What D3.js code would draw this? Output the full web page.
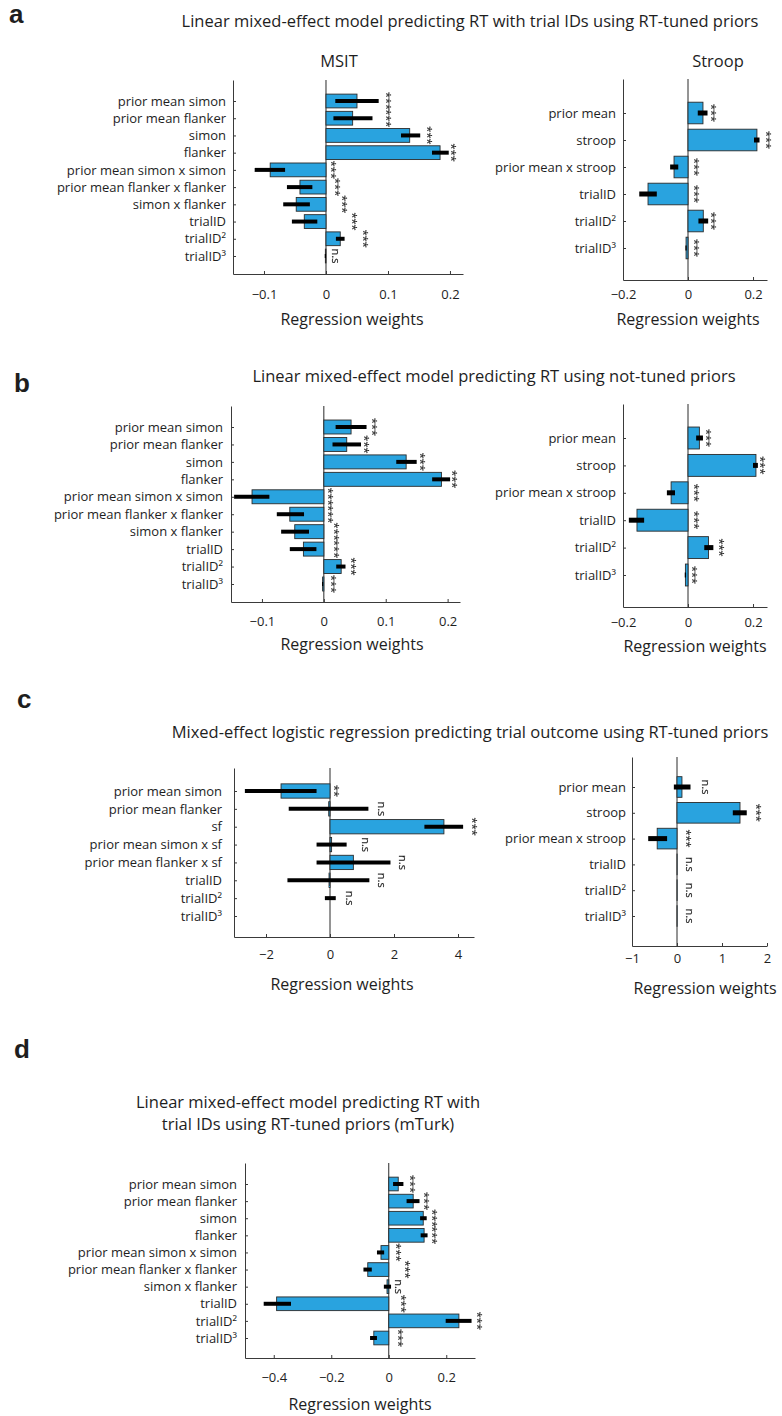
<!DOCTYPE html>
<html>
<head>
<meta charset="utf-8">
<script src="https://cdn.jsdelivr.net/npm/d3@7"></script>
<style>
  body { margin: 0; background: #fff; }
  svg text { font-family: "Open Sans", Lato, sans-serif; fill: #1e1e1e; }
  .axis path, .axis line { stroke: #3a3a3a; }
  .sigs { filter: grayscale(100%); opacity: 0.98; }
</style>
</head>
<body>
<svg id="fig" width="782" height="1416"></svg>
<script>
// ---- terms (y categories) ----
const msitTerms = ["prior mean simon", "prior mean flanker", "simon", "flanker",
  "prior mean simon x simon", "prior mean flanker x flanker", "simon x flanker",
  "trialID", "trialID\u00b2", "trialID\u00b3"];
const stroopTerms = ["prior mean", "stroop", "prior mean x stroop", "trialID", "trialID\u00b2", "trialID\u00b3"];
const logitMsitTerms = ["prior mean simon", "prior mean flanker", "sf", "prior mean simon x sf",
  "prior mean flanker x sf", "trialID", "trialID\u00b2", "trialID\u00b3"];

// ---- a: RT with trial IDs, RT-tuned priors ----
const aMsitW  = [0.05, 0.043, 0.135, 0.184, -0.09, -0.042, -0.048, -0.035, 0.023, -0.001];
const aMsitLo = [0.015, 0.012, 0.121, 0.171, -0.115, -0.063, -0.069, -0.055, 0.016, -0.002];
const aMsitHi = [0.085, 0.075, 0.152, 0.198, -0.066, -0.022, -0.026, -0.014, 0.03, 0.0];
const aMsitSig  = ["***", "***", "***", "***", "***", "***", "***", "***", "***", "n.s"];
const aMsitSigX = [0.103, 0.103, 0.168, 0.208, 0.014, 0.021, 0.032, 0.047, 0.066, 0.015];

const aStroopW  = [0.046, 0.212, -0.043, -0.123, 0.047, -0.006];
const aStroopLo = [0.03, 0.203, -0.055, -0.15, 0.032, -0.008];
const aStroopHi = [0.06, 0.22, -0.03, -0.096, 0.062, -0.004];
const aStroopSig  = ["***", "***", "***", "***", "***", "***"];
const aStroopSigX = [0.083, 0.25, 0.03, 0.03, 0.083, 0.03];

// ---- b: RT, not-tuned priors ----
const bMsitW  = [0.044, 0.037, 0.133, 0.19, -0.116, -0.055, -0.047, -0.033, 0.028, -0.002];
const bMsitLo = [0.019, 0.014, 0.117, 0.175, -0.145, -0.076, -0.069, -0.055, 0.02, -0.003];
const bMsitHi = [0.069, 0.06, 0.15, 0.204, -0.088, -0.032, -0.024, -0.012, 0.035, -0.001];
const bMsitSig  = ["***", "***", "***", "***", "***", "***", "***", "***", "***", "***"];
const bMsitSigX = [0.084, 0.07, 0.162, 0.213, 0.012, 0.012, 0.022, 0.022, 0.05, 0.018];

const bStroopW  = [0.035, 0.209, -0.052, -0.157, 0.063, -0.008];
const bStroopLo = [0.025, 0.2, -0.065, -0.182, 0.05, -0.01];
const bStroopHi = [0.046, 0.215, -0.04, -0.135, 0.078, -0.006];
const bStroopSig  = ["***", "***", "***", "***", "***", "***"];
const bStroopSigX = [0.066, 0.233, 0.029, 0.029, 0.105, 0.024];

// ---- c: logistic regression, trial outcome ----
const cMsitW  = [-1.53, -0.04, 3.56, 0.05, 0.73, -0.03, 0.0, 0.0];
const cMsitLo = [-2.66, -1.29, 2.95, -0.42, -0.42, -1.33, -0.16, 0.0];
const cMsitHi = [-0.42, 1.2, 4.16, 0.52, 1.89, 1.23, 0.18, 0.0];
const cMsitSig  = ["**", "n.s", "***", "n.s", "n.s", "n.s", "n.s", ""];
const cMsitSigX = [0.24, 1.6, 4.56, 1.1, 2.26, 1.6, 0.6, 0];

const cStroopW  = [0.11, 1.4, -0.44, 0.003, 0.003, 0.003];
const cStroopLo = [-0.07, 1.24, -0.64, 0, 0, 0];
const cStroopHi = [0.3, 1.55, -0.22, 0, 0, 0];
const cStroopSig  = ["n.s", "***", "***", "n.s", "n.s", "n.s"];
const cStroopSigX = [0.64, 1.84, 0.29, 0.27, 0.27, 0.27];

// ---- d: mTurk ----
const dW  = [0.033, 0.085, 0.12, 0.123, -0.027, -0.073, -0.006, -0.39, 0.244, -0.052];
const dLo = [0.015, 0.062, 0.109, 0.111, -0.041, -0.088, -0.017, -0.435, 0.198, -0.065];
const dHi = [0.051, 0.107, 0.132, 0.135, -0.016, -0.059, 0.008, -0.34, 0.288, -0.041];
const dSig  = ["***", "***", "***", "***", "***", "***", "n.s", "***", "***", "***"];
const dSigX = [0.085, 0.135, 0.163, 0.163, 0.038, 0.07, 0.034, 0.056, 0.32, 0.045];

const msitTicks = [-0.1, 0, 0.1, 0.2];
const stroopTicks = [-0.2, 0, 0.2];
const cMsitTicks = [-2, 0, 2, 4];
const cStroopTicks = [-1, 0, 1, 2];
const dTicks = [-0.4, -0.2, 0, 0.2];

const svg = d3.select("#fig");
const BAR = "#29a3df";

function drawPanel(p) {
  const n = p.terms.length;
  const step = (p.row1 - p.row0) / (n - 1);
  const x = d3.scaleLinear().domain(p.domain).range([p.x0, p.x1]);
  const y = d3.scaleLinear()
    .domain([-(p.row0 - p.top) / step, n - 1 + (p.bottom - p.row1) / step])
    .range([p.top, p.bottom]);
  const bh = step * 0.8;
  const g = svg.append("g");

  // zero line
  g.append("line")
    .attr("x1", x(0)).attr("x2", x(0))
    .attr("y1", p.top).attr("y2", p.bottom)
    .attr("stroke", "#2a2a2a").attr("stroke-width", 1);

  // bars
  g.selectAll("rect.bar").data(p.w).join("rect")
    .attr("class", "bar")
    .attr("x", d => Math.min(x(0), x(d)))
    .attr("width", d => Math.abs(x(d) - x(0)))
    .attr("y", (d, i) => y(i) - bh / 2)
    .attr("height", bh)
    .attr("fill", BAR).attr("stroke", "#2b2b2b").attr("stroke-width", 0.9);

  // error bars
  g.selectAll("line.err").data(p.lo).join("line")
    .attr("class", "err")
    .attr("x1", d => x(d)).attr("x2", (d, i) => x(p.hi[i]))
    .attr("y1", (d, i) => y(i)).attr("y2", (d, i) => y(i))
    .attr("stroke", "#000").attr("stroke-width", p.errW);

  // axes
  const ax = g.append("g").attr("class", "axis")
    .attr("transform", `translate(0,${p.bottom})`)
    .call(d3.axisBottom(x).tickValues(p.ticks).tickSize(-3).tickSizeOuter(0)
      .tickFormat(d => d3.format("~g")(d)));
  ax.selectAll("text").attr("y", p.tickDy).attr("dy", null)
    .style("font-size", "13px").attr("fill", "#1e1e1e");

  const ay = g.append("g").attr("class", "axis")
    .attr("transform", `translate(${p.x0},0)`)
    .call(d3.axisLeft(y).tickValues(d3.range(n)).tickSize(-3).tickSizeOuter(0)
      .tickFormat(i => p.terms[i]));
  ay.selectAll("text").attr("x", -p.labGap).style("font-size", "13px").attr("fill", "#1e1e1e");

  // significance labels (rotated), grouped so they render in grey
  g.append("g").attr("class", "sigs")
    .selectAll("text").data(p.sig).join("text")
    .attr("transform", (d, i) => `translate(${x(p.sigX[i])},${y(i)}) rotate(90)`)
    .attr("text-anchor", "middle")
    .attr("dy", d => d === "n.s" ? "0.3em" : "0.6em")
    .attr("stroke", "#222").attr("stroke-width", 0.2)
    .style("font-size", "11px")
    .text(d => d);

  // x label
  g.append("text")
    .attr("x", p.xlabX).attr("y", p.xlabY)
    .attr("text-anchor", "middle")
    .style("font-size", "16px")
    .text("Regression weights");
}

function addText(x, yy, str, size, opts = {}) {
  return svg.append("text")
    .attr("x", x).attr("y", yy)
    .attr("text-anchor", opts.anchor || "middle")
    .style("font-size", size + "px")
    .style("font-weight", opts.weight || null)
    .style("font-family", opts.family || null)
    .text(str);
}

// panel letters
const letterFont = "'Liberation Sans', Arial, sans-serif";
addText(9, 23, "a", 26, {anchor: "start", weight: "bold", family: letterFont});
addText(14, 392, "b", 26, {anchor: "start", weight: "bold", family: letterFont});
addText(17, 708, "c", 26, {anchor: "start", weight: "bold", family: letterFont});
addText(14, 1058, "d", 26, {anchor: "start", weight: "bold", family: letterFont});

// titles
addText(470, 27, "Linear mixed-effect model predicting RT with trial IDs using RT-tuned priors", 16.5);
addText(339, 67, "MSIT", 16.5);
addText(718, 67, "Stroop", 16.5);
addText(494, 382, "Linear mixed-effect model predicting RT using not-tuned priors", 16.5);
addText(470, 738, "Mixed-effect logistic regression predicting trial outcome using RT-tuned priors", 16.5);
addText(308, 1108, "Linear mixed-effect model predicting RT with", 16.5);
addText(308, 1130, "trial IDs using RT-tuned priors (mTurk)", 16.5);

drawPanel({terms: msitTerms, w: aMsitW, lo: aMsitLo, hi: aMsitHi, sig: aMsitSig, sigX: aMsitSigX,
  domain: [-0.15, 0.221], ticks: msitTicks, x0: 233, x1: 463, top: 80, bottom: 274, row0: 101, row1: 256,
  errW: 4, labGap: 7, tickDy: 25, xlabX: 352, xlabY: 325});
drawPanel({terms: stroopTerms, w: aStroopW, lo: aStroopLo, hi: aStroopHi, sig: aStroopSig, sigX: aStroopSigX,
  domain: [-0.2, 0.243], ticks: stroopTicks, x0: 623, x1: 767, top: 79, bottom: 280, row0: 113, row1: 248,
  errW: 5, labGap: 7, tickDy: 19, xlabX: 688, xlabY: 325});

drawPanel({terms: msitTerms, w: bMsitW, lo: bMsitLo, hi: bMsitHi, sig: bMsitSig, sigX: bMsitSigX,
  domain: [-0.15, 0.22], ticks: msitTicks, x0: 231, x1: 460, top: 406, bottom: 602, row0: 427, row1: 584,
  errW: 4, labGap: 8, tickDy: 24, xlabX: 352, xlabY: 650});
drawPanel({terms: stroopTerms, w: bStroopW, lo: bStroopLo, hi: bStroopHi, sig: bStroopSig, sigX: bStroopSigX,
  domain: [-0.2, 0.243], ticks: stroopTicks, x0: 623, x1: 767, top: 404, bottom: 607, row0: 438, row1: 575,
  errW: 5, labGap: 7, tickDy: 20, xlabX: 695, xlabY: 652});

drawPanel({terms: logitMsitTerms, w: cMsitW, lo: cMsitLo, hi: cMsitHi, sig: cMsitSig, sigX: cMsitSigX,
  domain: [-3, 4.5], ticks: cMsitTicks, x0: 234, x1: 474, top: 768, bottom: 937, row0: 791, row1: 916,
  errW: 4, labGap: 12, tickDy: 22, xlabX: 342, xlabY: 990});
drawPanel({terms: stroopTerms, w: cStroopW, lo: cStroopLo, hi: cStroopHi, sig: cStroopSig, sigX: cStroopSigX,
  domain: [-1, 2], ticks: cStroopTicks, x0: 632, x1: 767, top: 757, bottom: 946, row0: 787, row1: 916,
  errW: 5, labGap: 6, tickDy: 17, xlabX: 705, xlabY: 994});

drawPanel({terms: msitTerms, w: dW, lo: dLo, hi: dHi, sig: dSig, sigX: dSigX,
  domain: [-0.5, 0.3], ticks: dTicks, x0: 245, x1: 475, top: 1163, bottom: 1358, row0: 1184, row1: 1338,
  errW: 4, labGap: 8, tickDy: 24, xlabX: 360, xlabY: 1410});
</script>
</body>
</html>
